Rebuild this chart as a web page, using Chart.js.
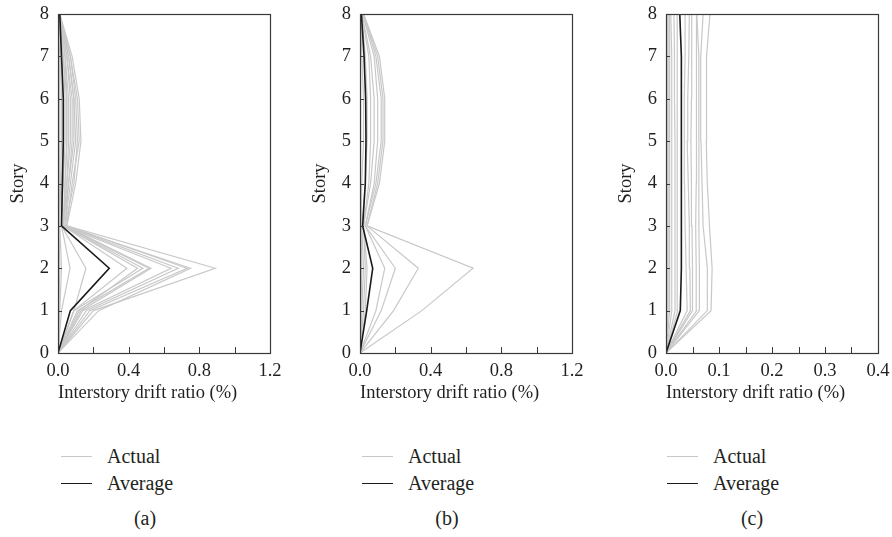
<!DOCTYPE html>
<html>
<head>
<meta charset="utf-8">
<script src="https://cdn.jsdelivr.net/npm/chart.js@4"></script>
<style>
  body { margin: 0; background: #fff; width: 892px; height: 537px; overflow: hidden; position: relative;
         font-family: "Liberation Serif", "DejaVu Serif", serif; color: #231f20; }
  .panel { position: absolute; top: 0; width: 284px; height: 420px; }
  .leg { position: absolute; font-size: 20px; line-height: 22px; white-space: nowrap; }
  .leg .ln { position: absolute; left: 0; width: 31px; top: 11px; }
  .leg span { margin-left: 46px; }
  .cap { position: absolute; font-size: 20px; top: 507px; width: 40px; text-align: center; }
</style>
</head>
<body>
<div class="panel" style="left:0px"><canvas id="chartA"></canvas></div>
<div class="panel" style="left:302px"><canvas id="chartB"></canvas></div>
<div class="panel" style="left:608px"><canvas id="chartC"></canvas></div>

<div class="leg" style="left:61px;top:445px"><div class="ln" style="border-top:1.3px solid #c8c8c8"></div><span>Actual</span></div>
<div class="leg" style="left:61px;top:472px"><div class="ln" style="border-top:1.6px solid #1a1a1a"></div><span>Average</span></div>
<div class="cap" style="left:125px">(a)</div>

<div class="leg" style="left:362px;top:445px"><div class="ln" style="border-top:1.3px solid #c8c8c8"></div><span>Actual</span></div>
<div class="leg" style="left:362px;top:472px"><div class="ln" style="border-top:1.6px solid #1a1a1a"></div><span>Average</span></div>
<div class="cap" style="left:427px">(b)</div>

<div class="leg" style="left:667px;top:445px"><div class="ln" style="border-top:1.3px solid #c8c8c8"></div><span>Actual</span></div>
<div class="leg" style="left:667px;top:472px"><div class="ln" style="border-top:1.6px solid #1a1a1a"></div><span>Average</span></div>
<div class="cap" style="left:732px">(c)</div>

<script>
// stories 0..8 (y values)
const stories = [0, 1, 2, 3, 4, 5, 6, 7, 8];

// (a) drift ratio (%) per story, each row = one record
const actualA = [
    [0, 0.20, 0.89, 0.05, 0.10, 0.13, 0.12, 0.08, 0.01],
    [0, 0.23, 0.75, 0.04, 0.09, 0.11, 0.10, 0.07, 0.01],
    [0, 0.18, 0.73, 0.05, 0.08, 0.12, 0.11, 0.07, 0.01],
    [0, 0.16, 0.68, 0.04, 0.07, 0.10, 0.09, 0.06, 0.01],
    [0, 0.14, 0.64, 0.03, 0.06, 0.09, 0.09, 0.06, 0.01],
    [0, 0.13, 0.526, 0.04, 0.06, 0.08, 0.08, 0.05, 0.01],
    [0, 0.11, 0.515, 0.03, 0.05, 0.07, 0.07, 0.05, 0.01],
    [0, 0.09, 0.48, 0.03, 0.05, 0.06, 0.06, 0.04, 0.01],
    [0, 0.12, 0.45, 0.03, 0.04, 0.05, 0.05, 0.04, 0.01],
    [0, 0.09, 0.39, 0.03, 0.04, 0.05, 0.05, 0.03, 0.01],
    [0, 0.09, 0.158, 0.02, 0.03, 0.04, 0.04, 0.03, 0.005],
    [0, 0.02, 0.068, 0.02, 0.02, 0.03, 0.03, 0.02, 0.005],
    [0, 0.01, 0.02, 0.01, 0.015, 0.02, 0.02, 0.015, 0.005],
    [0, 0.005, 0.01, 0.005, 0.01, 0.01, 0.01, 0.01, 0],
    [0, 0.003, 0.004, 0.003, 0.004, 0.004, 0.004, 0.004, 0]
];
const averageA = [0, 0.07, 0.29, 0.02, 0.025, 0.03, 0.03, 0.02, 0.01];

// (b)
const actualB = [
    [0, 0.35, 0.64, 0.04, 0.10, 0.13, 0.13, 0.10, 0.02],
    [0, 0.19, 0.33, 0.04, 0.11, 0.14, 0.14, 0.11, 0.02],
    [0, 0.12, 0.20, 0.03, 0.09, 0.12, 0.12, 0.09, 0.02],
    [0, 0.09, 0.14, 0.03, 0.08, 0.10, 0.10, 0.08, 0.015],
    [0, 0.03, 0.04, 0.02, 0.06, 0.08, 0.08, 0.06, 0.01],
    [0, 0.02, 0.03, 0.02, 0.05, 0.06, 0.06, 0.05, 0.01],
    [0, 0.01, 0.02, 0.01, 0.03, 0.04, 0.04, 0.03, 0.01],
    [0, 0.005, 0.01, 0.005, 0.01, 0.02, 0.02, 0.01, 0.005],
    [0, 0.002, 0.005, 0.002, 0.005, 0.005, 0.005, 0.005, 0]
];
const averageB = [0, 0.038, 0.072, 0.015, 0.03, 0.034, 0.032, 0.023, 0.008];

// (c)
const actualC = [
    [0, 0.085, 0.087, 0.082, 0.078, 0.076, 0.076, 0.077, 0.083],
    [0, 0.078, 0.078, 0.070, 0.068, 0.066, 0.066, 0.065, 0.070],
    [0, 0.063, 0.063, 0.062, 0.062, 0.062, 0.062, 0.062, 0.058],
    [0, 0.058, 0.057, 0.056, 0.057, 0.057, 0.057, 0.058, 0.058],
    [0, 0.050, 0.050, 0.049, 0.048, 0.047, 0.048, 0.049, 0.048],
    [0, 0.046, 0.045, 0.044, 0.042, 0.040, 0.041, 0.043, 0.044],
    [0, 0.040, 0.038, 0.036, 0.035, 0.034, 0.035, 0.036, 0.036],
    [0, 0.022, 0.022, 0.021, 0.021, 0.021, 0.021, 0.021, 0.021],
    [0, 0.017, 0.017, 0.017, 0.017, 0.017, 0.016, 0.016, 0.015],
    [0, 0.011, 0.011, 0.011, 0.011, 0.011, 0.011, 0.010, 0.009],
    [0, 0.007, 0.007, 0.007, 0.007, 0.007, 0.007, 0.007, 0.006],
    [0, 0.004, 0.004, 0.004, 0.004, 0.004, 0.004, 0.004, 0.004],
    [0, 0.002, 0.002, 0.002, 0.002, 0.002, 0.002, 0.002, 0.002]
];
const averageC = [0, 0.027, 0.029, 0.029, 0.029, 0.029, 0.029, 0.029, 0.026];

const xTicksAB = { max: 1.2, step: 0.2 };
const xTicksC = { max: 0.4, step: 0.05 };

const FONT = '"Liberation Serif", "DejaVu Serif", serif';
const TEXT = '#231f20';

// inward tick marks + frame
const framePlugin = {
    id: 'frame',
    afterDraw(chart) {
        const { ctx, chartArea: a, scales } = chart;
        ctx.save();
        ctx.strokeStyle = '#3a3a3a';
        ctx.lineWidth = 1;
        scales.x.ticks.forEach(t => {
            const px = Math.round(scales.x.getPixelForValue(t.value)) + 0.5;
            ctx.beginPath(); ctx.moveTo(px, a.bottom); ctx.lineTo(px, a.bottom - 6); ctx.stroke();
        });
        scales.y.ticks.forEach(t => {
            const py = Math.round(scales.y.getPixelForValue(t.value)) + 0.5;
            ctx.beginPath(); ctx.moveTo(a.left, py); ctx.lineTo(a.left + 4, py); ctx.stroke();
        });
        ctx.lineWidth = 1.2;
        ctx.strokeRect(Math.round(a.left) + 0.5, Math.round(a.top) + 0.5, Math.round(a.right - a.left), Math.round(a.bottom - a.top));
        ctx.restore();
    }
};

function toPoints(values) {
    return values.map((v, i) => ({ x: v, y: stories[i] }));
}

function makeChart(id, actual, average, xt, labelEvery) {
    const datasets = [{
        label: 'Average',
        data: toPoints(average),
        borderColor: '#1a1a1a',
        borderWidth: 1.6,
        order: 0
    }];
    actual.forEach((row, k) => {
        datasets.push({
            label: 'Actual ' + (k + 1),
            data: toPoints(row),
            borderColor: '#c8c8c8',
            borderWidth: 1.2,
            order: 1
        });
    });

    return new Chart(document.getElementById(id), {
        type: 'scatter',
        data: { datasets },
        options: {
            responsive: true,
            maintainAspectRatio: false,
            animation: false,
            showLine: true,
            elements: { point: { radius: 0, hoverRadius: 0 }, line: { tension: 0 } },
            layout: { padding: { top: 14, right: 14, bottom: 14, left: 0 } },
            plugins: { legend: { display: false }, tooltip: { enabled: false } },
            scales: {
                x: {
                    type: 'linear',
                    min: 0,
                    max: xt.max,
                    grid: { display: false, drawTicks: false },
                    border: { display: false },
                    ticks: {
                        stepSize: xt.step,
                        autoSkip: false,
                        maxRotation: 0,
                        padding: 7,
                        color: TEXT,
                        font: { family: FONT, size: 18.5 },
                        callback: v => (Math.round(v / xt.step) % labelEvery === 0 ? v.toFixed(1) : '')
                    },
                    title: {
                        display: true,
                        text: 'Interstory drift ratio (%)',
                        align: 'start',
                        color: TEXT,
                        font: { family: FONT, size: 18.5 },
                        padding: { top: 0, bottom: 2 }
                    },
                    afterFit: s => { s.height = 53; s.paddingLeft = 0; s.paddingRight = 0; }
                },
                y: {
                    type: 'linear',
                    min: 0,
                    max: 8,
                    grid: { display: false, drawTicks: false },
                    border: { display: false },
                    ticks: {
                        stepSize: 1,
                        padding: 9,
                        color: TEXT,
                        font: { family: FONT, size: 18.5 }
                    },
                    title: {
                        display: true,
                        text: 'Story',
                        color: TEXT,
                        font: { family: FONT, size: 18.5 },
                        padding: { top: 7, bottom: 0 }
                    },
                    afterFit: s => { s.width = 58; s.paddingTop = 0; s.paddingBottom = 0; }
                }
            }
        },
        plugins: [framePlugin]
    });
}

makeChart('chartA', actualA, averageA, xTicksAB, 2);
makeChart('chartB', actualB, averageB, xTicksAB, 2);
makeChart('chartC', actualC, averageC, xTicksC, 2);
</script>
</body>
</html>
